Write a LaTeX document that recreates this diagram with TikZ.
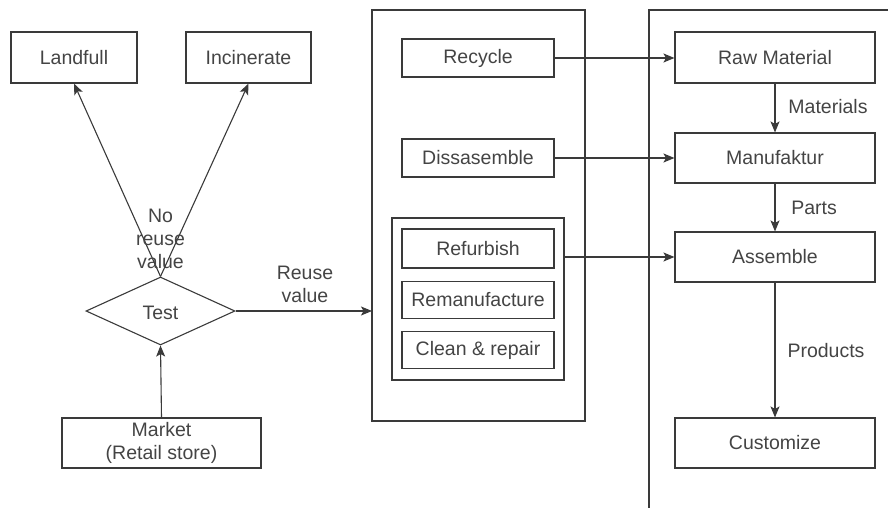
\documentclass[tikz,border=0pt]{standalone}
\usepackage{fontspec}
\setmainfont{Liberation Sans}
\usetikzlibrary{shapes.geometric,arrows.meta}
\definecolor{ln}{HTML}{3A3A3A}
\definecolor{tx}{HTML}{444444}
\tikzset{
  box/.style={draw=ln,line width=1.1pt,rectangle,inner sep=0pt,align=center,text=tx,font=\fontsize{19.5}{23}\selectfont},
  lbl/.style={text=tx,align=center,inner sep=0pt,font=\fontsize{19.5}{23}\selectfont},
  arr/.style={draw=ln,line width=1.1pt,-{Stealth[length=11pt,width=9pt,inset=2.5pt]}},
  cont/.style={draw=ln,line width=1.1pt}
}
\begin{document}
\begin{tikzpicture}[x=1pt,y=-1pt]
\useasboundingbox (0,0) rectangle (888,508);
% containers
\draw[cont] (372,10) rectangle (585,421);
\draw[cont] (892,10) -- (649,10) -- (649,512);
\node[box,minimum width=172,minimum height=162] (grp) at (478,299) {};
% left side
\node[box,minimum width=126,minimum height=51] (land) at (74,57.5) {Landfull};
\node[box,minimum width=125,minimum height=51] (inc) at (248.5,57.5) {Incinerate};
\node[diamond,draw=ln,line width=1.1pt,aspect=2.2,minimum width=149,minimum height=68,inner sep=0pt] (test) at (160.5,311) {};
\node[lbl] at (160.5,313) {Test};
\node[box,minimum width=199,minimum height=50] (market) at (161.5,443) {Market\\(Retail store)};
% middle boxes
\node[box,minimum width=152,minimum height=38] (rec) at (478,58) {Recycle};
\node[box,minimum width=152,minimum height=38] (dis) at (478,158) {Dissasemble};
\node[box,minimum width=152,minimum height=39] (ref) at (478,248.5) {Refurbish};
\node[box,minimum width=152,minimum height=37] (rem) at (478,300) {Remanufacture};
\node[box,minimum width=152,minimum height=37] (cln) at (478,350) {Clean \& repair};
% right boxes
\node[box,minimum width=200,minimum height=51] (raw) at (775,57.5) {Raw Material};
\node[box,minimum width=200,minimum height=50] (man) at (775,158) {Manufaktur};
\node[box,minimum width=200,minimum height=50] (asm) at (775,257) {Assemble};
\node[box,minimum width=200,minimum height=50] (cus) at (775,443) {Customize};
\coordinate (midL) at (372,311);
% connectors
\draw[arr] (market.north) -- (test.south);
\draw[arr] (test.north) -- (land.south);
\draw[arr] (test.north) -- (inc.south);
\draw[arr] (test.east) -- (midL);
\draw[arr] (rec.east) -- (rec.east -| raw.west);
\draw[arr] (dis.east) -- (dis.east -| man.west);
\draw[arr] (grp.east |- asm.west) -- (asm.west);
\draw[arr] (raw.south) -- (man.north);
\draw[arr] (man.south) -- (asm.north);
\draw[arr] (asm.south) -- (cus.north);
% labels
\node[lbl] at (160.5,239) {No\\reuse\\value};
\node[lbl] at (305,284) {Reuse\\value};
\node[lbl] at (828,107) {Materials};
\node[lbl] at (814,208) {Parts};
\node[lbl] at (826,351) {Products};
\end{tikzpicture}
\end{document}
